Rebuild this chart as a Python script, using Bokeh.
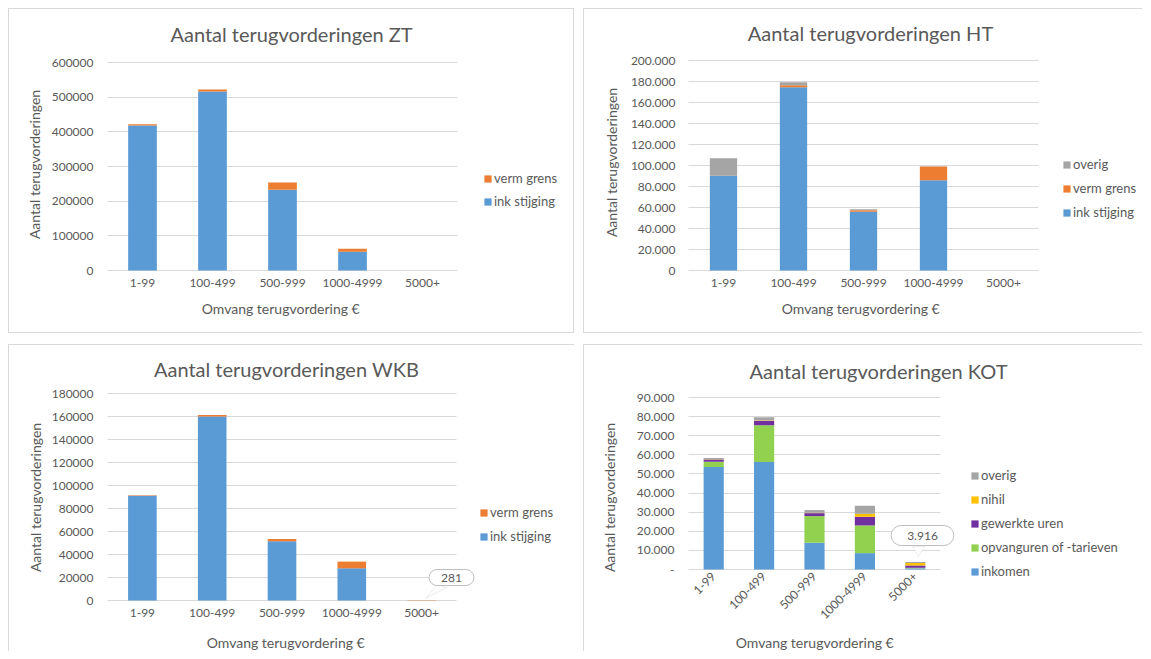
import math
from bokeh.plotting import figure
from bokeh.models import (ColumnDataSource, Range1d, FixedTicker,
                          CustomJSTickFormatter, Legend, LegendItem, Label, PolyAnnotation)
from bokeh.layouts import column, row
from bokeh.embed import file_html
from bokeh.resources import INLINE

# ---------------- data ----------------
cats = ["1-99", "100-499", "500-999", "1000-4999", "5000+"]

zt_ink = [418000, 516000, 233000, 54000, 0]
zt_verm = [4000, 6000, 21000, 9000, 0]

ht_ink = [90400, 174500, 56000, 86000, 0]
ht_verm = [300, 2000, 1500, 13000, 0]
ht_overig = [16300, 2800, 800, 400, 0]

wkb_ink = [91000, 160000, 51500, 28000, 0]
wkb_verm = [500, 1200, 2000, 5800, 281]

kot_inkomen = [53600, 56300, 14000, 8560, 600]
kot_opvang = [2800, 19200, 13950, 14500, 300]
kot_gewerkt = [1200, 2200, 1550, 4540, 1200]
kot_nihil = [100, 200, 200, 1570, 1300]
kot_overig = [700, 1800, 1400, 4200, 516]

Y_TITLE = "Aantal terugvorderingen"
X_TITLE = "Omvang terugvordering  \u20ac"

# ---------------- style ----------------
FONT = "Lato"
TXT = "#595959"
GRID = "#d9d9d9"
BLUE = "#5B9BD5"
ORANGE = "#ED7D31"
GRAY = "#A5A5A5"
YELLOW = "#FFC000"
GREEN = "#92D050"
PURPLE = "#7030A0"

NCAT = len(cats)
xpos = [i + 0.5 for i in range(NCAT)]

FMT_X = CustomJSTickFormatter(args=dict(cats=cats),
                              code="return cats[Math.floor(tick)] || '';")
FMT_PLAIN = CustomJSTickFormatter(code="return tick.toFixed(0);")
FMT_DOT = CustomJSTickFormatter(code=r"""
if (tick == 0) { return '0'; }
return tick.toFixed(0).replace(/\B(?=(\d{3})+(?!\d))/g, '.');
""")
FMT_DASH = CustomJSTickFormatter(code=r"""
if (tick == 0) { return '-'; }
return tick.toFixed(0).replace(/\B(?=(\d{3})+(?!\d))/g, '.');
""")


def dotted(n):
    return f"{n:,}".replace(",", ".")


class Panel:
    """A figure whose frame fills it completely; the chart area
    (the 5 categories x 0..ymax) sits at a given pixel box inside it,
    axes are drawn at fixed locations."""

    def __init__(self, fig_box, area, ymax, step, fmt, shadow, ylab_std, xlab_std):
        fx, fy, fw, fh = fig_box
        L, R, T, B = area
        self.L, self.B = L, B
        self.ux = NCAT / (R - L)
        self.uy = ymax / (B - T)
        p = figure(width=fw, height=fh,
                   x_range=Range1d(-(L - fx) * self.ux, (fx + fw - L) * self.ux),
                   y_range=Range1d(-(fy + fh - B) * self.uy, (B - fy) * self.uy),
                   output_backend="svg", toolbar_location=None,
                   min_border=0, min_border_left=0, min_border_right=0,
                   min_border_top=0, min_border_bottom=0)
        p.border_fill_color = None
        p.background_fill_color = None
        p.outline_line_color = None
        p.styles = {"box-shadow": shadow, "background": "white"}
        p.xgrid.grid_line_color = None
        p.ygrid.grid_line_color = GRID
        p.ygrid.grid_line_width = 1
        p.ygrid.cross_bounds = (0, NCAT)
        p.ygrid.bounds = (0, ymax)
        p.yaxis.ticker = FixedTicker(ticks=list(range(0, ymax + 1, step)))
        p.yaxis.formatter = fmt
        p.yaxis.bounds = (0, ymax)
        p.yaxis.fixed_location = 0
        p.xaxis.ticker = FixedTicker(ticks=xpos)
        p.xaxis.formatter = FMT_X
        p.xaxis.bounds = (0, NCAT)
        p.xaxis.fixed_location = 0
        for ax in (p.xaxis[0], p.yaxis[0]):
            ax.major_tick_line_color = None
            ax.major_tick_out = 0
            ax.major_tick_in = 0
            ax.minor_tick_line_color = None
            ax.minor_tick_out = 0
            ax.minor_tick_in = 0
            ax.axis_line_color = None
            ax.major_label_text_font = FONT
            ax.major_label_text_font_size = "12px"
            ax.major_label_text_color = TXT
        p.yaxis.major_label_standoff = ylab_std
        p.xaxis.major_label_standoff = xlab_std
        self.p = p

    def dx(self, px):
        return (px - self.L) * self.ux

    def dy(self, py):
        return (self.B - py) * self.uy

    def text(self, text, x, y, size, angle=0.0):
        self.p.add_layout(Label(x=self.dx(x), y=self.dy(y), text=text, angle=angle,
                                text_align="center", text_baseline="middle",
                                text_font=FONT, text_font_size=size, text_color=TXT))

    def titles(self, title, tpos, ypos, xpos_):
        self.text(title, tpos[0], tpos[1], "20px")
        self.text(Y_TITLE, ypos[0], ypos[1], "14px", math.pi / 2)
        self.text(X_TITLE, xpos_[0], xpos_[1], "14px")


def add_stack(pn, series, names, colors, width, leg_loc, spacing):
    data = {"x": xpos}
    for n, s in zip(names, series):
        data[n] = s
    src = ColumnDataSource(data)
    rs = pn.p.vbar_stack(names, x="x", width=width, color=colors, source=src,
                         line_color=None)
    items = [LegendItem(label=n, renderers=[r]) for n, r in zip(names, rs)][::-1]
    leg = Legend(items=items, location=leg_loc, orientation="vertical",
                 glyph_width=9, glyph_height=9, label_standoff=2,
                 label_text_font=FONT, label_text_font_size="13px",
                 label_text_color=TXT, spacing=spacing, padding=0, margin=0,
                 border_line_color=None, background_fill_alpha=0)
    pn.p.add_layout(leg, "center")


def add_callout(pn, text, center, tail, pad, radius):
    xs = [pn.dx(a) for a, b in tail]
    ys = [pn.dy(b) for a, b in tail]
    pn.p.add_layout(PolyAnnotation(xs=xs, ys=ys, fill_color="white", fill_alpha=1,
                                   line_color="#bfbfbf", line_width=1))
    pn.p.add_layout(Label(x=pn.dx(center[0]), y=pn.dy(center[1]), text=text,
                          text_align="center", text_baseline="middle",
                          text_font=FONT, text_font_size="12px", text_color=TXT,
                          background_fill_color="white", border_line_color="#bfbfbf",
                          padding=pad, border_radius=radius))


# page geometry: figure box (x, y, w, h) and chart area (L, R, T, B);
# legend location is given relative to the figure's bottom-left corner
# ---- ZT ----
zt = Panel((8, 8, 566, 325), (107, 457, 62, 270), 600000, 100000, FMT_PLAIN,
           "inset 0 0 0 1px #d9d9d9", 14, 8)
zt.titles("Aantal terugvorderingen ZT", (291, 33), (34, 164), (282, 308))
add_stack(zt, [zt_ink, zt_verm], ["ink stijging", "verm grens"], [BLUE, ORANGE],
          0.41, (475, 124), 7)

# ---- HT ----
ht = Panel((583, 8, 559, 325), (688, 1038, 60, 270), 200000, 20000, FMT_DOT,
           "inset 1px 1px 0 0 #d9d9d9, inset 0 -1px 0 0 #d9d9d9", 13, 8)
ht.titles("Aantal terugvorderingen HT", (870, 32), (611, 162), (862, 308))
add_stack(ht, [ht_ink, ht_verm, ht_overig], ["ink stijging", "verm grens", "overig"],
          [BLUE, ORANGE, GRAY], 0.39, (479, 113), 8)

# ---- WKB ----
wkb = Panel((8, 344, 566, 307), (107, 456, 393, 600), 180000, 20000, FMT_PLAIN,
            "inset 1px 1px 0 0 #d9d9d9", 14, 8)
wkb.titles("Aantal terugvorderingen WKB", (286, 368), (35, 497), (287, 642))
add_stack(wkb, [wkb_ink, wkb_verm], ["ink stijging", "verm grens"], [BLUE, ORANGE],
          0.41, (471, 107), 8)
wkb_tot = wkb_ink[4] + wkb_verm[4]
add_callout(wkb, dotted(wkb_tot), (451, 577), [(425, 598), (437, 584), (446, 587)],
            (12, 4), 11)

# ---- KOT ----
kot = Panel((583, 344, 559, 307), (688, 940, 397, 569), 90000, 10000, FMT_DASH,
            "inset 1px 1px 0 0 #d9d9d9", 14, 5)
kot.p.xaxis.major_label_orientation = math.pi / 4
kot.titles("Aantal terugvorderingen KOT", (878, 370), (609, 497), (816, 642))
add_stack(kot, [kot_inkomen, kot_opvang, kot_gewerkt, kot_nihil, kot_overig],
          ["inkomen", "opvanguren of -tarieven", "gewerkte uren", "nihil", "overig"],
          [BLUE, GREEN, PURPLE, YELLOW, GRAY], 0.4, (387, 72), 8)
kot5 = kot_inkomen[4] + kot_opvang[4] + kot_gewerkt[4] + kot_nihil[4] + kot_overig[4]
add_callout(kot, dotted(kot5), (922, 535), [(912, 546), (918, 556), (924, 546)],
            (16, 6), 13)

layout = column(row(zt.p, ht.p, spacing=9), row(wkb.p, kot.p, spacing=9), spacing=11,
                margin=(8, 0, 0, 8))

open("out.html", "w").write(file_html(layout, INLINE))
